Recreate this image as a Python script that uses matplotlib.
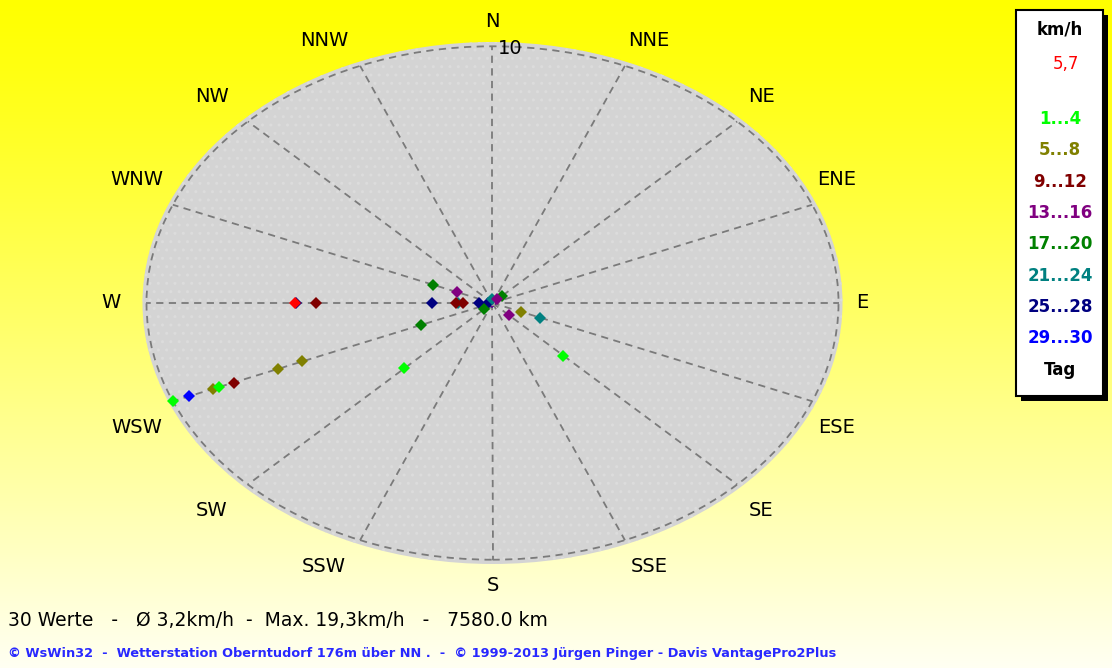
"""Wind rose (WsWin32 style): daily wind direction/speed for one month."""

import numpy as np
import matplotlib
matplotlib.use("Agg")
import matplotlib.pyplot as plt
from matplotlib.patches import Ellipse, Rectangle

W_PX, H_PX = 1112, 668

compass = ["N", "NNE", "NE", "ENE", "E", "ESE", "SE", "SSE",
           "S", "SSW", "SW", "WSW", "W", "WNW", "NW", "NNW"]

# one point per day: direction, speed (km/h), day of month
point_dirs = ["WSW", "WSW", "SW", "SE",
              "WSW", "WSW", "WSW", "ESE",
              "WSW", "W", "W", "W",
              "WNW", "SE", "NE", "N",
              "WNW", "WSW", "SW", "NE",
              "W", "ESE", "N", "N",
              "W", "W", "W", "W",
              "WSW", "N"]
point_speeds = [10.0, 8.55, 3.6, 2.9,
                8.75, 6.7, 5.95, 0.9,
                8.1, 5.1, 1.05, 0.84,
                1.1, 0.66, 0.2, 0.05,
                1.85, 2.25, 0.35, 0.4,
                0.99, 1.5, 0.15, 0.05,
                5.67, 1.76, 0.4, 0.13,
                9.5, 0.05]
point_days = list(range(1, 31))

current_dir = "W"
current_speed = 5.7

day_groups = ["1...4", "5...8", "9...12", "13...16", "17...20",
              "21...24", "25...28", "29...30"]
group_colors = ["#00ff00", "#808000", "#800000", "#800080", "#008000",
                "#008080", "#000080", "#0000ff"]

summary = "30 Werte   -   Ø 3,2km/h  -  Max. 19,3km/h   -   7580.0 km"
footer = ("© WsWin32  -  Wetterstation Oberntudorf 176m über NN .  -  "
          "© 1999-2013 Jürgen Pinger - Davis VantagePro2Plus")

# layout (pixels)
cx, cy = 492.5, 303.0
sx, sy = 34.6, 25.67  # px per km/h


def fx(px):
    return px / W_PX


def fy(py):
    return 1 - py / H_PX


def main():
    fig = plt.figure(figsize=(W_PX / 100, H_PX / 100), dpi=100)
    ax = fig.add_axes([0, 0, 1, 1])
    xlim = (-cx / sx, (W_PX - cx) / sx)
    ylim = (-(H_PX - cy) / sy, cy / sy)

    # yellow background gradient
    grad = np.linspace(0, 1, 256)[:, None]
    rgb = np.ones((256, 1, 3))
    rgb[:, :, 2] = 0.95 * grad ** 1.15
    ax.imshow(rgb, extent=(*xlim, *ylim), aspect="auto", origin="upper", zorder=0)

    ax.add_patch(Ellipse((0, 0), 2 * 350 / sx, 2 * 261 / sy, facecolor="#d4d4d4",
                         edgecolor="#dcdcdc", lw=0, hatch="..", zorder=1))
    ax.add_patch(Ellipse((0, 0), 20, 20, facecolor="none", edgecolor="#7a7a7a",
                         lw=1.3, ls=(0, (4, 3)), zorder=2))

    for k, name in enumerate(compass):
        th = np.deg2rad(22.5 * k)
        s, c = np.sin(th), np.cos(th)
        ax.plot([0, 10 * s], [0, 10 * c], color="#7a7a7a", lw=1.3,
                ls=(0, (4, 3)), zorder=2)
        dx = 0 if abs(s) < 0.01 else (24 if s > 0 else -36)
        dy = 0 if abs(c) < 0.01 else (25 if c > 0 else -26)
        ax.annotate(name, (10 * s, 10 * c), xytext=(dx, dy), textcoords="offset pixels",
                    ha="center", va="center", fontsize=14, color="black", zorder=5)

    ax.annotate("10", (0, 10), xytext=(5, -2), textcoords="offset pixels",
                ha="left", va="center", fontsize=14, color="black", zorder=5)

    ax.plot([0], [0], marker="s", ms=5, color="#9a9a9a", mew=0, zorder=3.5)

    # later days first, so earlier days end up on top; calm days lie underneath
    for d, v, day in reversed(list(zip(point_dirs, point_speeds, point_days))):
        th = np.deg2rad(22.5 * compass.index(d))
        g = 0
        while g < 7 and day > 4 * (g + 1):
            g += 1
        ax.plot(v * np.sin(th), v * np.cos(th), marker="D", ms=6.3, mew=0,
                color=group_colors[g], zorder=3 if v < 0.1 else 4)

    th = np.deg2rad(22.5 * compass.index(current_dir))
    ax.plot(current_speed * np.sin(th), current_speed * np.cos(th), marker="D",
            ms=6.3, mew=0, color="#ff0000", zorder=4)

    ax.set_xlim(xlim)
    ax.set_ylim(ylim)
    ax.axis("off")

    # legend box
    bx0, bx1, by0, by1 = 1016, 1103, 10, 396
    fig.add_artist(Rectangle((fx(bx0 + 5), fy(by1 + 5)), fx(bx1 - bx0), (by1 - by0) / H_PX,
                             facecolor="black", edgecolor="none"))
    fig.add_artist(Rectangle((fx(bx0), fy(by1)), fx(bx1 - bx0), (by1 - by0) / H_PX,
                             facecolor="white", edgecolor="black", lw=1.5))
    lx = 1060
    fig.text(fx(lx), fy(30), "km/h", ha="center", va="center", fontsize=12,
             fontweight="bold", color="black")
    fig.text(fx(lx + 6), fy(64), f"{current_speed:.1f}".replace(".", ","), ha="center",
             va="center", fontsize=12, color="#ff0000")
    for i, (lab, col) in enumerate(zip(day_groups, group_colors)):
        fig.text(fx(lx), fy(119 + 31.3 * i), lab, ha="center", va="center",
                 fontsize=12, fontweight="bold", color=col)
    fig.text(fx(lx), fy(370), "Tag", ha="center", va="center", fontsize=12,
             fontweight="bold", color="black")

    fig.text(fx(8), fy(621), summary, ha="left", va="center", fontsize=13.5, color="black")
    fig.text(fx(8), fy(654), footer, ha="left", va="center", fontsize=9.3,
             fontweight="bold", color="#2828ff")

    fig.savefig("out.png", dpi=100)
    plt.close(fig)


if __name__ == "__main__":
    main()
